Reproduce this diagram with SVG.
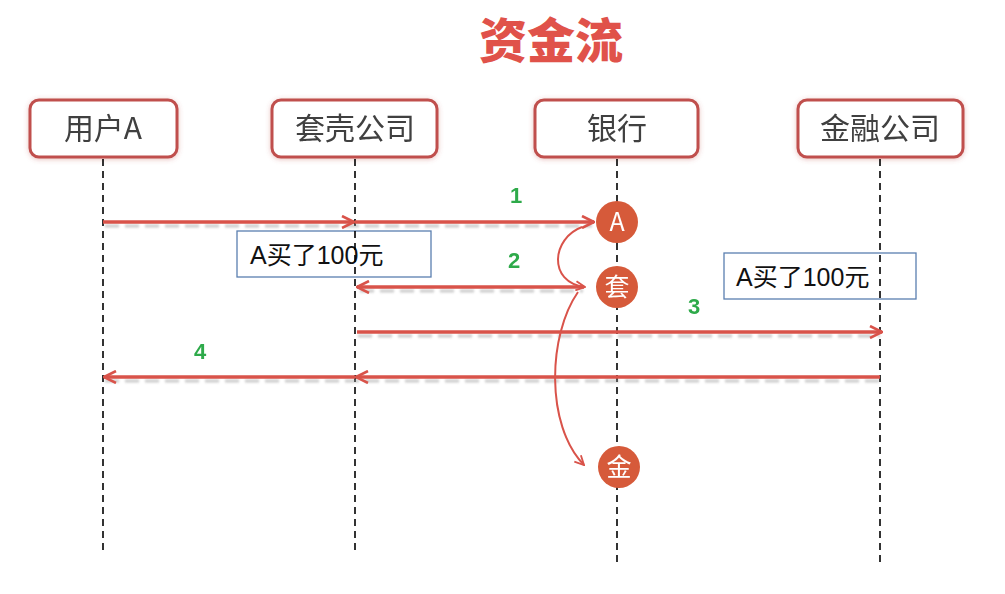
<svg xmlns="http://www.w3.org/2000/svg" width="1005" height="594" viewBox="0 0 1005 594">
  <defs>
    <style>
      .title { font-family: "Noto Sans CJK SC", "Liberation Sans", sans-serif; font-weight: 900; font-size: 48px; fill: #e0524a; }
      .head rect { fill: #ffffff; stroke: #c0504d; stroke-width: 3; }
      .head text { font-family: "Noto Sans CJK SC", "Liberation Sans", sans-serif; font-size: 30px; fill: #404040; text-anchor: middle; }
      .life { stroke: #000000; stroke-width: 1.6; stroke-dasharray: 7 5; fill: none; }
      .note rect { fill: #ffffff; stroke: #5a7fb0; stroke-width: 1.3; }
      .note text { font-family: "Liberation Sans", "Noto Sans CJK SC", sans-serif; font-size: 25px; fill: #111111; }
      .msg { stroke: #d9534a; stroke-width: 3.4; fill: none; }
      .shadow { stroke: #9a9a9a; stroke-width: 3; stroke-dasharray: 14 6; fill: none; opacity: 0.5; }
      .curve { stroke: #d9534a; stroke-width: 2; fill: none; }
      .num { font-family: "Liberation Sans", sans-serif; font-weight: bold; font-size: 22px; fill: #2eaa4a; text-anchor: middle; }
      .dot circle { fill: #d65a3a; }
      .dot text { font-family: "Noto Sans CJK SC", "Liberation Sans", sans-serif; font-size: 25px; fill: #ffffff; text-anchor: middle; }
    </style>
    <filter id="glow" x="-10%" y="-20%" width="120%" height="140%">
      <feGaussianBlur in="SourceAlpha" stdDeviation="2.5"/>
      <feOffset dx="0" dy="1" result="b"/>
      <feFlood flood-color="#c0504d" flood-opacity="0.35"/>
      <feComposite in2="b" operator="in"/>
      <feMerge><feMergeNode/><feMergeNode in="SourceGraphic"/></feMerge>
    </filter>
    <filter id="soft" x="-5%" y="-200%" width="110%" height="500%">
      <feGaussianBlur stdDeviation="1.2"/>
    </filter>
    <marker id="arr" viewBox="0 0 14 14" refX="13" refY="7" markerWidth="14" markerHeight="14" markerUnits="userSpaceOnUse" orient="auto">
      <path d="M1 1 L13 7 L1 13" fill="none" stroke="#d9534a" stroke-width="2.6" stroke-linejoin="miter"/>
    </marker>
    <marker id="arrS" viewBox="0 0 12 12" refX="11" refY="6" markerWidth="11" markerHeight="11" markerUnits="userSpaceOnUse" orient="auto">
      <path d="M1 1 L11 6 L1 11" fill="none" stroke="#d9534a" stroke-width="2"/>
    </marker>
  </defs>

  <rect width="1005" height="594" fill="#ffffff"/>

  <text class="title" x="551" y="58" text-anchor="middle">资金流</text>

  <!-- participants -->
  <g id="user-a" class="head" filter="url(#glow)">
    <rect x="30" y="100" width="147" height="57" rx="9"/>
    <text x="103" y="139">用户A</text>
  </g>
  <g id="shell-company" class="head" filter="url(#glow)">
    <rect x="272" y="100" width="165" height="57" rx="9"/>
    <text x="355" y="139">套壳公司</text>
  </g>
  <g id="bank" class="head" filter="url(#glow)">
    <rect x="535" y="100" width="163" height="57" rx="9"/>
    <text x="617" y="139">银行</text>
  </g>
  <g id="finance-company" class="head" filter="url(#glow)">
    <rect x="798" y="100" width="165" height="57" rx="9"/>
    <text x="880" y="139">金融公司</text>
  </g>

  <!-- notes -->
  <g id="note-1" class="note">
    <rect x="237" y="231" width="194" height="46"/>
    <text x="250" y="264">A买了100元</text>
  </g>
  <g id="note-2" class="note">
    <rect x="724" y="253" width="192" height="46"/>
    <text x="736" y="286">A买了100元</text>
  </g>

  <!-- lifelines -->
  <g id="lifelines">
    <line class="life" x1="103" y1="159" x2="103" y2="555"/>
    <line class="life" x1="355" y1="159" x2="355" y2="555"/>
    <line class="life" x1="617" y1="159" x2="617" y2="566"/>
    <line class="life" x1="880" y1="159" x2="880" y2="566"/>
  </g>

  <!-- messages -->
  <g id="connectors">
    <g filter="url(#soft)">
      <line class="shadow" x1="105" y1="226" x2="592" y2="226"/>
      <line class="shadow" x1="360" y1="291" x2="583" y2="291"/>
      <line class="shadow" x1="358" y1="336" x2="880" y2="336"/>
      <line class="shadow" x1="105" y1="381" x2="880" y2="381"/>
    </g>
    <line class="msg" x1="103" y1="222" x2="354" y2="222" marker-end="url(#arr)"/>
    <line class="msg" x1="355" y1="222" x2="594" y2="222" marker-end="url(#arr)"/>
    <line class="msg" x1="584" y1="287" x2="357" y2="287" marker-end="url(#arr)"/>
    <line class="msg" x1="357" y1="332" x2="882" y2="332" marker-end="url(#arr)"/>
    <line class="msg" x1="880" y1="377" x2="356" y2="377" marker-end="url(#arr)"/>
    <line class="msg" x1="355" y1="377" x2="104" y2="377" marker-end="url(#arr)"/>
    <path class="curve" d="M582 227 C552 238, 547 282, 585 287" marker-end="url(#arrS)"/>
    <path class="curve" d="M578 292 C548 335, 545 425, 584 465" marker-end="url(#arrS)"/>
  </g>

  <!-- step numbers -->
  <text class="num" x="516" y="203">1</text>
  <text class="num" x="514" y="268">2</text>
  <text class="num" x="694" y="314">3</text>
  <text class="num" x="200" y="359">4</text>

  <!-- bank ledger markers -->
  <g id="mark-a" class="dot">
    <circle cx="617" cy="222" r="21"/>
    <text x="617" y="231" font-family="Liberation Sans, sans-serif">A</text>
  </g>
  <g id="mark-shell" class="dot">
    <circle cx="617" cy="287" r="21"/>
    <text x="617" y="296">套</text>
  </g>
  <g id="mark-finance" class="dot">
    <circle cx="619" cy="467" r="21"/>
    <text x="619" y="476">金</text>
  </g>
</svg>
